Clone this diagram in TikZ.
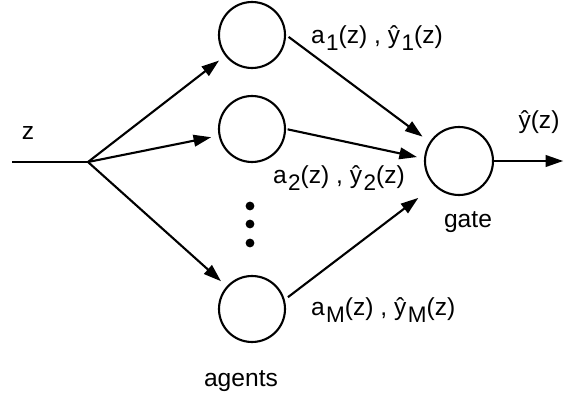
\documentclass[tikz,border=0pt]{standalone}
\usepackage{fontspec}
\setmainfont{Liberation Sans}
\usepackage{tikz}
\usetikzlibrary{arrows.meta,calc,positioning}
\newcommand{\lowsub}[1]{\kern0.06em\raisebox{-0.32em}{\fontsize{16}{16}\selectfont #1}}

\begin{document}
\begin{tikzpicture}[>={Triangle[length=0.44cm,width=0.29cm]},line width=1.5pt,
  unit/.style={draw,circle,minimum size=1.65cm,inner sep=0pt},
  lbl/.style={font=\fontsize{17.5}{20}\selectfont,inner sep=0pt},
  feed/.style={->,shorten >=0.19cm}]
\useasboundingbox (0,0) rectangle (14.1,9.95);
\node[unit] (agent1) at (6.3,9.075) {};
\node[unit] (agent2) at (6.3,6.725) {};
\node[unit] (agentM) at (6.3,2.225) {};
\node[unit,minimum size=1.7cm] (gate) at (11.475,5.925) {};
\coordinate (in) at (0.3,5.9);
\coordinate (split) at (2.2,5.9);
\coordinate (out) at (14.08,5.925);
\draw (in) -- (split);
\foreach \a in {agent1,agent2,agentM} \draw[feed] (split) -- (\a);
\foreach \y in {4.8,4.35,3.875} \fill (6.25,\y) circle (0.11);
\draw[->,shorten <=0.08cm,shorten >=0.22cm] (agent1.east) -- (gate.147);
\draw[->,shorten <=0.04cm,shorten >=0.18cm] (agent2.east) -- (gate.176);
\draw[->,shorten <=0.1cm,shorten >=0.5cm] (agentM.16) -- (gate.225);
\draw[->] (gate.east) -- (out);
\node[lbl,anchor=west] (lab1) at (7.75,9.0) {a\lowsub{1}(z) , ŷ\lowsub{1}(z)};
\node[lbl,anchor=west] (lab2) at (6.8,5.5) {a\lowsub{2}(z) , ŷ\lowsub{2}(z)};
\node[lbl,anchor=west] (labM) at (7.75,2.2) {a\lowsub{M}(z) , ŷ\lowsub{M}(z)};
\node[lbl] (yhat) at (13.475,6.9) {ŷ(z)};
\node[lbl] (gatelbl) at (11.7,4.4) {gate};
\node[lbl] (agentslbl) at (6.025,0.425) {agents};
\node[lbl] (zlbl) at (0.7,6.625) {z};
\end{tikzpicture}
\end{document}
